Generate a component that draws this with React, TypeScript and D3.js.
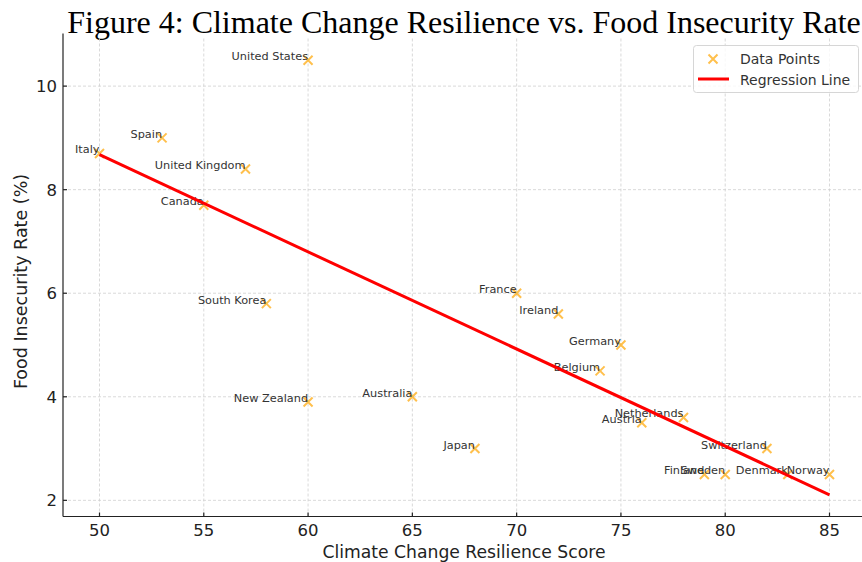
import * as d3 from 'd3'

const countries = [
  'United States', 'Spain', 'Italy', 'United Kingdom', 'Canada', 'South Korea',
  'France', 'Ireland', 'Germany', 'Belgium', 'New Zealand', 'Australia', 'Japan',
  'Netherlands', 'Austria', 'Switzerland', 'Finland', 'Sweden', 'Denmark', 'Norway',
]
const resilience = [60, 53, 50, 57, 55, 58, 70, 72, 75, 74, 60, 65, 68, 78, 76, 82, 79, 80, 83, 85]
const insecurity = [10.5, 9, 8.7, 8.4, 7.7, 5.8, 6, 5.6, 5, 4.5, 3.9, 4, 3, 3.6, 3.5, 3, 2.5, 2.5, 2.5, 2.5]

const xTicks = [50, 55, 60, 65, 70, 75, 80, 85]
const yTicks = [2, 4, 6, 8, 10]

const W = 862
const H = 562
const sans = '"DejaVu Sans", sans-serif'

// least squares fit, same as np.polyfit(x, y, 1)
function fitLine(xs: number[], ys: number[]) {
  const mx = d3.mean(xs)!
  const my = d3.mean(ys)!
  let sxy = 0
  let sxx = 0
  xs.forEach((x, i) => {
    sxy += (x - mx) * (ys[i] - my)
    sxx += (x - mx) * (x - mx)
  })
  const slope = sxy / sxx
  return (x: number) => my + slope * (x - mx)
}

function Cross({ cx, cy, r }: { cx: number; cy: number; r: number }) {
  return (
    <path
      d={`M${cx - r},${cy - r}L${cx + r},${cy + r}M${cx - r},${cy + r}L${cx + r},${cy - r}`}
      stroke="#FFA500"
      strokeOpacity={0.7}
      strokeWidth={2}
      fill="none"
    />
  )
}

export default function App() {
  const fit = fitLine(resilience, insecurity)
  const [x0, x1] = d3.extent(resilience) as [number, number]
  const lineXs = [x0, x1]
  const lineYs = lineXs.map(fit)

  const xPad = (x1 - x0) * 0.05
  const yMin = Math.min(d3.min(insecurity)!, d3.min(lineYs)!)
  const yMax = Math.max(d3.max(insecurity)!, d3.max(lineYs)!)
  const yPad = (yMax - yMin) * 0.05

  const x = d3.scaleLinear().domain([x0 - xPad, x1 + xPad]).range([63, 866])
  const y = d3.scaleLinear().domain([yMin - yPad, yMax + yPad]).range([516.5, 38.5])

  const line = d3.line<number>()
    .x((d) => x(d))
    .y((d, i) => y(lineYs[i]))

  const [left] = x.range()
  const [bottom, top] = y.range()

  return (
    <svg width={W} height={H} style={{ position: 'absolute', left: 0, top: 0, background: '#fff' }}>
      <text
        x={464}
        y={33}
        textAnchor="middle"
        fontFamily='"Liberation Serif", "Times New Roman", serif'
        fontSize={32}
        fill="#000"
      >
        Figure 4: Climate Change Resilience vs. Food Insecurity Rate
      </text>

      {/* grid */}
      <g stroke="#cfcfcf" strokeWidth={0.8} strokeDasharray="3,2">
        {xTicks.map((t) => (
          <line key={'gx' + t} x1={x(t)} x2={x(t)} y1={top} y2={bottom} />
        ))}
        {yTicks.map((t) => (
          <line key={'gy' + t} x1={left} x2={W} y1={y(t)} y2={y(t)} />
        ))}
      </g>

      {/* points + labels */}
      {countries.map((c, i) => {
        const px = x(resilience[i])
        const py = y(insecurity[i])
        return (
          <g key={c}>
            <Cross cx={px} cy={py} r={4.5} />
            <text
              x={px}
              y={py}
              textAnchor="end"
              fontFamily={sans}
              fontSize={11.3}
              fill="#333"
            >
              {c}
            </text>
          </g>
        )
      })}

      <path d={line(lineXs) ?? ''} stroke="#ff0000" strokeWidth={3} fill="none" />

      {/* axes, ticks point inward */}
      <g stroke="#222" strokeWidth={1.2}>
        <line x1={left} x2={left} y1={top - 5} y2={bottom} />
        <line x1={left} x2={W} y1={bottom} y2={bottom} />
        {xTicks.map((t) => (
          <line key={'tx' + t} x1={x(t)} x2={x(t)} y1={bottom} y2={bottom - 4} />
        ))}
        {yTicks.map((t) => (
          <line key={'ty' + t} x1={left} x2={left + 4} y1={y(t)} y2={y(t)} />
        ))}
      </g>
      <g fontFamily={sans} fontSize={16.5} fill="#222">
        {xTicks.map((t) => (
          <text key={'lx' + t} x={x(t)} y={bottom + 19.5} textAnchor="middle">
            {t}
          </text>
        ))}
        {yTicks.map((t) => (
          <text key={'ly' + t} x={left - 6} y={y(t) + 6} textAnchor="end">
            {t}
          </text>
        ))}
      </g>
      <text x={464} y={558} textAnchor="middle" fontFamily={sans} fontSize={17.2} fill="#222">
        Climate Change Resilience Score
      </text>
      <text
        transform={`translate(27,${(top + bottom) / 2 + 4}) rotate(-90)`}
        textAnchor="middle"
        fontFamily={sans}
        fontSize={17.5}
        fill="#222"
      >
        Food Insecurity Rate (%)
      </text>

      {/* legend */}
      <g>
        <rect x={693.5} y={45.5} width={165} height={47} rx={3} fill="#fff" fillOpacity={0.8} stroke="#d6d6d6" />
        <Cross cx={713} cy={59} r={4.5} />
        <line x1={698} x2={729} y1={79} y2={79} stroke="#ff0000" strokeWidth={3} />
        <g fontFamily={sans} fontSize={14} fill="#333">
          <text x={740} y={63.5}>Data Points</text>
          <text x={740} y={84.5}>Regression Line</text>
        </g>
      </g>
    </svg>
  )
}
